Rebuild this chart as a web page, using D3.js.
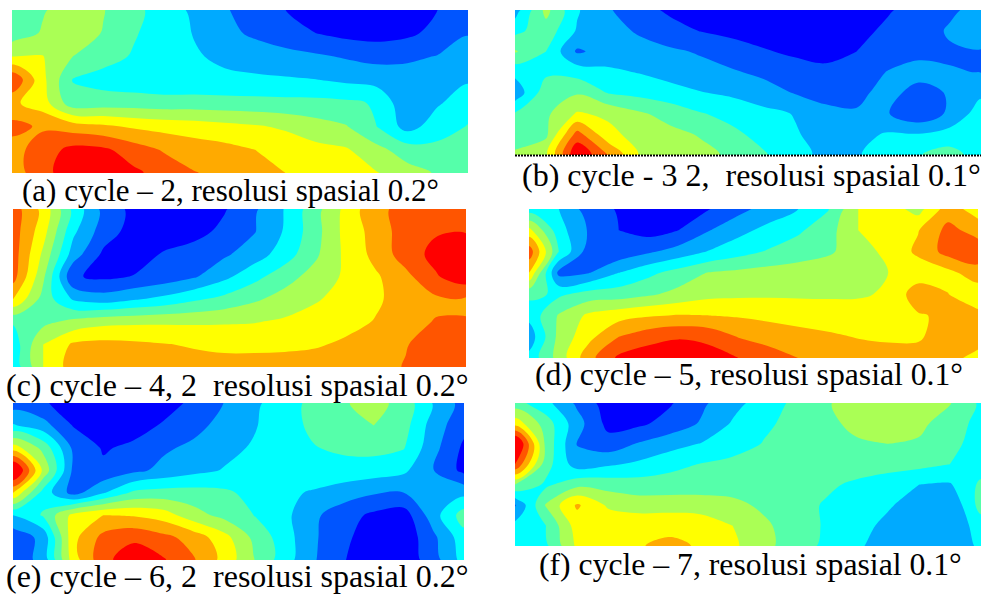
<!DOCTYPE html>
<html>
<head>
<meta charset="utf-8">
<script src="https://cdn.jsdelivr.net/npm/d3@7"></script>
<style>
  html, body { margin: 0; background: #fff; }
  svg { display: block; }
  text { font-family: "Liberation Serif", serif; white-space: pre; fill: #000; }
</style>
</head>
<body>
<svg id="chart" width="981" height="595"></svg>
<script>
// band colours, lowest to highest
const bandColors = ["#0000ff", "#0055ff", "#00aaff", "#00ffff", "#55ffaa", "#aaff55", "#ffff00", "#ffaa00", "#ff5500", "#ff0000"];
const bandThresholds = [0, 1, 2, 3, 4, 5, 6, 7, 8, 9];

const captions = [
  "(a) cycle \u2013 2, resolusi spasial 0.2\u00b0",
  "(b) cycle - 3 2,  resolusi spasial 0.1\u00b0",
  "(c) cycle \u2013 4, 2  resolusi spasial 0.2\u00b0",
  "(d) cycle \u2013 5, resolusi spasial 0.1\u00b0",
  "(e) cycle \u2013 6, 2  resolusi spasial 0.2\u00b0",
  "(f) cycle \u2013 7, resolusi spasial 0.1\u00b0"
];

// values, 16 columns x 8 rows, top row first
const panelA = [
  [4.5,4.9,5.5,5.05,4.3,3.5,2.8,2.1,1.5,1.0,.5,.3,.3,.5,1.0,1.4],
  [4.4,5.1,5.5,4.95,4.1,3.5,2.95,2.3,1.8,1.3,1.0,.7,.6,.8,1.3,1.95],
  [6.0,6.05,5.0,4.4,3.9,3.5,3.1,2.8,2.6,2.4,2.15,1.9,1.7,1.8,2.05,2.4],
  [8.95,6.3,3.95,3.6,3.4,3.3,3.25,3.2,3.15,3.1,3.02,2.8,2.6,2.5,2.6,2.9],
  [7.2,6.5,4.4,4.5,4.5,4.4,4.45,4.4,4.35,4.3,4.3,4.2,3.9,2.2,2.9,3.5],
  [8.3,7.85,7.5,7.2,6.85,6.65,6.5,6.3,6.1,5.85,5.4,5.05,4.0,2.6,3.5,4.05],
  [7.6,8.5,9.3,9.2,8.5,7.9,7.5,7.3,7.0,6.6,6.3,6.1,5.3,4.5,4.3,4.4],
  [7.5,8.6,9.7,9.6,9.2,8.6,8.05,7.7,7.3,7.0,6.7,6.4,6.05,5.4,4.9,4.7]
];
const panelB = [
  [2.5,5.3,3.1,2.1,1.4,.8,.4,.3,.3,.3,.3,.5,.9,1.4,1.85,2.3],
  [3.7,4.6,2.9,2.3,1.9,1.4,.95,.7,.5,.4,.4,.7,1.2,1.6,2.1,2.4],
  [5.1,4.0,1.85,2.4,2.3,2.15,1.9,1.5,1.1,.8,.6,1.0,1.4,1.7,1.9,1.95],
  [3.3,3.8,3.6,3.2,2.95,2.6,2.3,2.1,1.8,1.5,1.3,1.4,2.05,2.4,2.05,1.98],
  [2.3,4.6,4.9,3.95,3.7,3.4,3.05,2.8,2.4,1.95,1.5,1.75,2.35,1.6,2.1,2.8],
  [4.1,4.8,6.1,5.8,5.15,4.6,4.05,3.7,3.3,2.95,2.4,2.1,2.05,1.2,2.2,3.5],
  [4.4,4.8,8.4,6.3,5.6,5.3,4.9,4.2,3.7,3.1,2.6,2.7,3.1,3.05,3.4,3.8],
  [5.2,5.8,9.9,8.0,5.95,5.6,5.3,4.8,4.1,3.4,2.7,2.9,3.5,3.95,4.4,3.5]
];
const panelC = [
  [8.5,6.7,3.7,1.7,.7,.4,.4,.9,1.85,3.05,4.6,6.25,7.75,8.3,8.6,8.7],
  [8.5,6.4,3.2,1.5,.6,.4,.6,1.3,1.95,3.1,4.6,6.3,7.4,8.5,8.9,8.95],
  [8.5,5.8,2.5,.8,.5,1.1,1.5,1.85,2.5,3.5,4.8,6.2,7.3,8.5,9.3,9.6],
  [8.4,5.2,1.1,.8,1.05,1.4,1.9,2.75,3.7,4.6,5.4,6.15,6.85,7.7,8.9,9.6],
  [7.0,4.6,2.9,2.5,2.9,3.3,3.85,4.3,4.85,5.4,5.9,6.35,6.85,7.4,7.8,7.85],
  [4.1,4.7,5.3,5.7,5.8,5.85,5.85,5.9,5.95,6.15,6.4,6.7,7.05,7.7,8.05,8.05],
  [3.4,6.0,7.15,7.3,7.2,7.05,6.9,6.75,6.75,6.8,6.9,7.15,7.6,7.95,8.4,8.5],
  [3.3,6.0,7.5,7.5,7.5,7.45,7.4,7.4,7.4,7.4,7.45,7.5,7.7,8.05,8.4,8.5]
];
const panelD = [
  [3.5,3.0,1.5,.9,.5,.6,.95,1.7,2.4,3.0,3.95,6.0,6.5,5.6,7.5,6.5],
  [6.3,3.4,1.9,1.0,.6,1.0,1.95,2.7,3.3,3.85,4.6,6.0,6.4,6.95,8.3,7.6],
  [8.6,4.0,1.5,1.3,1.85,2.4,3.05,3.6,4.1,4.5,4.85,5.5,6.3,7.2,8.4,8.6],
  [7.0,1.7,1.95,3.0,3.75,4.4,5.05,5.25,5.4,5.5,5.6,5.75,6.0,6.4,6.7,7.6],
  [4.3,3.8,4.4,4.5,4.85,5.3,5.7,5.8,5.85,5.85,5.85,5.9,6.1,7.6,7.02,6.3],
  [3.3,5.1,6.2,6.6,6.9,7.05,7.0,6.9,6.75,6.6,6.5,6.4,6.4,6.9,7.2,7.3],
  [2.4,5.3,6.7,8.0,8.6,8.9,8.7,7.95,7.6,7.35,7.15,6.95,6.85,6.9,7.4,7.3],
  [3.3,5.4,7.65,9.2,9.6,9.7,9.5,9.0,8.5,8.0,7.7,7.5,7.4,7.3,7.2,6.8]
];
const panelE = [
  [1.5,1.1,.6,.4,.4,.6,1.2,2.0,2.8,3.5,4.3,4.9,5.4,4.6,2.9,1.6],
  [3.1,2.4,.95,.5,.6,1.1,1.7,2.3,2.9,3.6,4.2,4.7,5.0,4.4,2.5,1.3],
  [6.5,4.7,1.8,.9,1.2,1.85,2.2,2.7,3.1,3.6,3.95,4.2,4.3,4.05,2.3,.8],
  [10.6,5.8,1.8,1.2,1.75,2.25,2.7,3.05,3.25,3.4,3.6,3.6,3.5,3.2,2.0,.7],
  [7.0,3.6,1.6,2.9,4.2,4.4,4.4,4.2,3.7,3.2,2.9,2.5,2.1,2.0,2.4,2.7],
  [3.0,4.1,6.3,7.0,6.9,6.5,5.4,4.7,4.0,3.3,2.2,1.4,.8,.5,2.6,4.5],
  [1.3,2.3,6.7,8.3,8.8,8.3,7.6,6.4,4.8,3.5,2.15,1.2,.5,.3,1.8,3.6],
  [1.4,2.3,6.5,8.7,9.6,9.1,8.1,6.7,5.05,3.5,2.1,1.05,.4,.3,1.6,3.4]
];
const panelF = [
  [4.4,3.3,1.8,.5,.4,.9,1.8,2.65,3.45,4.2,4.9,5.4,5.5,5.4,5.05,3.8],
  [6.6,4.5,2.4,.7,.8,1.4,2.1,3.1,3.8,4.3,4.8,5.2,5.4,5.2,4.6,3.6],
  [10.6,4.7,1.95,1.4,2.1,2.6,3.05,3.5,4.05,4.4,4.7,4.9,5.0,4.9,4.2,3.7],
  [9.0,4.4,2.5,2.85,3.2,3.7,4.05,4.3,4.4,4.5,4.55,4.55,4.45,4.3,4.0,3.5],
  [5.0,3.8,4.7,4.6,4.45,4.45,4.5,4.5,4.5,4.4,4.2,3.8,3.4,3.0,2.9,4.2],
  [1.9,5.1,7.15,5.85,5.5,5.55,5.5,5.3,4.8,4.4,3.9,3.4,3.1,2.6,2.1,4.4],
  [3.3,4.0,6.5,6.7,6.75,6.75,6.6,6.0,5.2,4.5,3.9,3.3,2.8,2.3,2.2,3.5],
  [3.5,3.8,6.2,6.6,6.95,7.2,6.9,6.2,5.3,4.5,3.8,3.1,2.7,2.4,2.3,3.2]
];

const panels = [panelA, panelB, panelC, panelD, panelE, panelF];

// where each map and caption sits on the page
const layout = [
  { x0: 12, x1: 468, y0: 10, y1: 173, labelX: 22, labelY: 201, labelSize: 31 },
  { x0: 515, x1: 981, y0: 10, y1: 155, labelX: 522, labelY: 186, labelSize: 32 },
  { x0: 13, x1: 466, y0: 209, y1: 367, labelX: 6, labelY: 396, labelSize: 32 },
  { x0: 529, x1: 978, y0: 209, y1: 358, labelX: 535, labelY: 385, labelSize: 31.7 },
  { x0: 13, x1: 464, y0: 403, y1: 560, labelX: 6, labelY: 587, labelSize: 32 },
  { x0: 515, x1: 981, y0: 403, y1: 546, labelX: 539, labelY: 575, labelSize: 31.7 }
];

const svg = d3.select("#chart");
const color = d3.scaleOrdinal().domain(bandThresholds).range(bandColors);

panels.forEach((rows, i) => {
  const box = layout[i];
  const ny = rows.length, nx = rows[0].length;

  // d3.contours puts grid value k at k + 0.5
  const xScale = d3.scaleLinear().domain([0.5, nx - 0.5]).range([box.x0, box.x1]);
  const yScale = d3.scaleLinear().domain([0.5, ny - 0.5]).range([box.y0, box.y1]);

  // round off the contour rings so they don't show the grid
  const ringPath = d3.line()
    .x(d => xScale(d[0]))
    .y(d => yScale(d[1]))
    .curve(d3.curveCatmullRomClosed.alpha(0.5));

  const bands = d3.contours()
    .size([nx, ny])
    .thresholds(bandThresholds)(rows.flat());

  svg.append("clipPath")
    .attr("id", "clip-" + i)
    .append("rect")
    .attr("x", box.x0)
    .attr("y", box.y0)
    .attr("width", box.x1 - box.x0)
    .attr("height", box.y1 - box.y0);

  const g = svg.append("g").attr("clip-path", "url(#clip-" + i + ")");

  // lowest band fills the whole box
  g.append("rect")
    .attr("x", box.x0)
    .attr("y", box.y0)
    .attr("width", box.x1 - box.x0)
    .attr("height", box.y1 - box.y0)
    .attr("fill", bandColors[0]);

  g.selectAll("path")
    .data(bands.slice(1))
    .enter().append("path")
    .attr("fill-rule", "evenodd")
    .attr("d", d => d.coordinates
      .flat()
      .map(ring => ringPath(ring.slice(0, -1)))
      .join(""))
    .attr("fill", d => color(d.value));

  svg.append("text")
    .attr("x", box.labelX)
    .attr("y", box.labelY)
    .attr("font-size", box.labelSize)
    .text(captions[i]);
});

// dotted rule under panel (b)
svg.append("line")
  .attr("x1", layout[1].x0)
  .attr("x2", layout[1].x1)
  .attr("y1", layout[1].y1 + 0.5)
  .attr("y2", layout[1].y1 + 0.5)
  .attr("stroke", "#000")
  .attr("stroke-width", 2)
  .attr("stroke-dasharray", "2,1");
</script>
</body>
</html>
